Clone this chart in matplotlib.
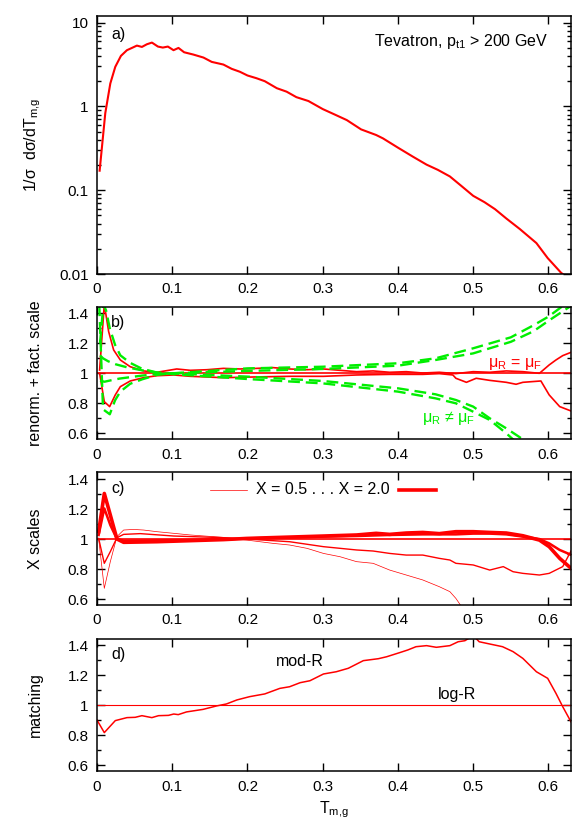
import matplotlib
matplotlib.use("Agg")
import matplotlib.pyplot as plt
from matplotlib.ticker import MultipleLocator, LogLocator, FuncFormatter, NullFormatter

plt.rcParams['font.family'] = ['Liberation Sans', 'DejaVu Sans']
plt.rcParams['mathtext.default'] = 'regular'
plt.rcParams['font.size'] = 11.5
plt.rcParams['xtick.labelsize'] = 11
plt.rcParams['ytick.labelsize'] = 11

RED = '#ff0000'
GREEN = '#00ee00'

# ---- panel a: normalised distribution ----
xa = [0.0035, 0.011, 0.0177, 0.0243, 0.0318, 0.0398, 0.0464, 0.053, 0.0597, 0.0663,
      0.073, 0.081, 0.0875, 0.0942, 0.1017, 0.1083, 0.1158, 0.128, 0.1415, 0.1525,
      0.168, 0.179, 0.19, 0.2, 0.212, 0.223, 0.239, 0.252, 0.265, 0.281,
      0.3, 0.316, 0.332, 0.351, 0.371, 0.38, 0.4, 0.42, 0.438, 0.453,
      0.469, 0.484, 0.5, 0.515, 0.529, 0.544, 0.562, 0.584, 0.599, 0.617, 0.63]
ya = [0.171, 0.83, 1.88, 2.97, 4.01, 4.69, 4.99, 5.32, 5.13, 5.52,
      5.78, 5.18, 5.04, 5.18, 4.69, 4.99, 4.43, 4.16, 3.83, 3.40,
      3.16, 2.81, 2.59, 2.34, 2.17, 2.0, 1.65, 1.50, 1.29, 1.16,
      0.93, 0.80, 0.687, 0.532, 0.456, 0.416, 0.322, 0.251, 0.202, 0.175,
      0.146, 0.113, 0.0857, 0.072, 0.0594, 0.046, 0.0344, 0.0234, 0.0155, 0.0103, 0.0085]

# ---- panel b: renormalisation + factorisation scale ----
xb_up = [0.0035, 0.0097, 0.0155, 0.0221, 0.031, 0.0442, 0.0619, 0.0796, 0.106, 0.124,
         0.146, 0.168, 0.19, 0.212, 0.234, 0.256, 0.279, 0.301, 0.323, 0.345,
         0.367, 0.389, 0.411, 0.433, 0.455, 0.477, 0.5, 0.522, 0.544, 0.566,
         0.588, 0.601, 0.61, 0.619, 0.63]
yb_up = [1.022, 1.46, 1.278, 1.156, 1.089, 1.044, 1.016, 1.007, 1.029, 1.02,
         1.024, 1.033, 1.029, 1.033, 1.038, 1.029, 1.024, 1.029, 1.02, 1.011,
         1.016, 1.007, 1.011, 1.002, 1.007, 0.998, 1.011, 1.007, 1.016, 1.011,
         1.0, 1.056, 1.089, 1.118, 1.14]
xb_lo = [0.0035, 0.0097, 0.0168, 0.0243, 0.031, 0.0442, 0.0619, 0.0796, 0.102, 0.124,
         0.168, 0.212, 0.256, 0.301, 0.345, 0.389, 0.433, 0.455, 0.473, 0.477,
         0.491, 0.504, 0.522, 0.544, 0.557, 0.566, 0.59, 0.601, 0.615, 0.63]
yb_lo = [1.0, 0.811, 0.778, 0.856, 0.911, 0.949, 0.971, 0.984, 0.989, 0.98,
         0.971, 0.976, 0.98, 0.98, 0.989, 0.993, 0.993, 0.998, 0.989, 0.967,
         0.94, 0.967, 0.953, 0.94, 0.927, 0.94, 0.949, 0.856, 0.778, 0.749]

xg1 = [0.004, 0.0085, 0.012, 0.017, 0.024, 0.031, 0.044, 0.06, 0.08, 0.1,
       0.2, 0.3, 0.4, 0.45, 0.477, 0.5, 0.522, 0.544, 0.555]
yg1 = [1.2, 1.46, 1.42, 1.3, 1.19, 1.12, 1.07, 1.03, 1.005, 0.995,
       0.962, 0.933, 0.878, 0.833, 0.8, 0.744, 0.689, 0.6, 0.55]
xg2 = [0.004, 0.008, 0.015, 0.025, 0.04, 0.06, 0.08, 0.1,
       0.2, 0.3, 0.4, 0.45, 0.477, 0.5, 0.522, 0.544, 0.566, 0.57]
yg2 = [1.12, 1.1, 1.08, 1.06, 1.04, 1.02, 1.005, 1.0,
       0.978, 0.949, 0.9, 0.86, 0.822, 0.778, 0.7, 0.633, 0.56, 0.55]
xg3 = [0.004, 0.01, 0.02, 0.03, 0.045, 0.06, 0.08, 0.1,
       0.2, 0.3, 0.4, 0.45, 0.5, 0.55, 0.58, 0.6, 0.63]
yg3 = [0.95, 0.944, 0.955, 0.965, 0.975, 0.985, 0.995, 1.0,
       1.016, 1.029, 1.051, 1.089, 1.133, 1.21, 1.28, 1.35, 1.45]
xg4 = [0.003, 0.008, 0.017, 0.024, 0.031, 0.044, 0.06, 0.08, 0.1,
       0.2, 0.3, 0.4, 0.45, 0.5, 0.55, 0.58, 0.6, 0.622]
yg4 = [1.46, 0.76, 0.727, 0.82, 0.878, 0.93, 0.96, 0.99, 1.0,
       1.033, 1.044, 1.067, 1.1, 1.167, 1.24, 1.32, 1.378, 1.46]

# ---- panel c: X scale variation (X = 0.5, 0.7, 1, 1.5, 2) ----
xc05 = [0.0022, 0.0097, 0.0177, 0.0265, 0.0354, 0.0486, 0.0619, 0.0796, 0.102, 0.124,
        0.168, 0.199, 0.234, 0.256, 0.279, 0.301, 0.323, 0.345, 0.367, 0.389,
        0.411, 0.433, 0.455, 0.469, 0.477, 0.483, 0.486]
yc05 = [1.004, 0.671, 0.849, 1.016, 1.06, 1.064, 1.06, 1.049, 1.038, 1.027,
        1.011, 0.993, 0.971, 0.96, 0.938, 0.904, 0.882, 0.849, 0.838, 0.793,
        0.76, 0.727, 0.682, 0.649, 0.604, 0.56, 0.54]
xc07 = [0.0022, 0.0097, 0.0177, 0.0265, 0.0354, 0.0575, 0.102, 0.168, 0.199, 0.256,
        0.301, 0.345, 0.367, 0.389, 0.411, 0.433, 0.455, 0.469, 0.477, 0.5,
        0.522, 0.54, 0.553, 0.566, 0.588, 0.601, 0.619, 0.63]
yc07 = [1.004, 0.838, 0.916, 1.009, 1.031, 1.036, 1.02, 1.009, 1.0, 0.982,
        0.949, 0.927, 0.92, 0.904, 0.893, 0.893, 0.871, 0.86, 0.838, 0.827,
        0.793, 0.816, 0.782, 0.771, 0.76, 0.771, 0.816, 0.92]
xc15 = [0.0022, 0.0097, 0.0177, 0.0265, 0.0354, 0.0796, 0.168, 0.199, 0.256, 0.301,
        0.345, 0.389, 0.433, 0.477, 0.5, 0.522, 0.544, 0.566, 0.588, 0.601,
        0.615, 0.63]
yc15 = [1.027, 1.204, 1.093, 1.0, 0.989, 0.991, 0.998, 1.004, 1.011, 1.016,
        1.02, 1.027, 1.031, 1.031, 1.036, 1.036, 1.031, 1.016, 1.0, 0.971,
        0.927, 0.895]
xc20 = [0.0022, 0.0097, 0.0177, 0.0265, 0.0354, 0.0796, 0.168, 0.199, 0.256, 0.301,
        0.345, 0.371, 0.389, 0.411, 0.433, 0.455, 0.477, 0.5, 0.522, 0.544,
        0.566, 0.588, 0.601, 0.615, 0.63]
yc20 = [1.049, 1.304, 1.16, 1.0, 0.978, 0.982, 0.996, 1.004, 1.013, 1.02,
        1.027, 1.038, 1.031, 1.04, 1.044, 1.036, 1.049, 1.049, 1.044, 1.04,
        1.022, 0.993, 0.949, 0.871, 0.805]

# ---- panel d: matching scheme ----
xd = [0.0, 0.0097, 0.0243, 0.0398, 0.0508, 0.0597, 0.0729, 0.0818, 0.095, 0.102,
      0.108, 0.119, 0.141, 0.159, 0.172, 0.186, 0.203, 0.223, 0.243, 0.256,
      0.27, 0.283, 0.301, 0.318, 0.334, 0.354, 0.374, 0.385, 0.402, 0.413,
      0.424, 0.438, 0.451, 0.469, 0.48, 0.489, 0.5, 0.508, 0.522, 0.539,
      0.553, 0.566, 0.584, 0.599, 0.61, 0.619, 0.63]
yd = [0.902, 0.818, 0.898, 0.918, 0.92, 0.931, 0.918, 0.931, 0.933, 0.942,
      0.938, 0.956, 0.973, 0.996, 1.009, 1.036, 1.058, 1.076, 1.113, 1.124,
      1.151, 1.164, 1.209, 1.224, 1.247, 1.298, 1.311, 1.324, 1.351, 1.369,
      1.391, 1.398, 1.387, 1.398, 1.424, 1.431, 1.465, 1.424, 1.409, 1.391,
      1.358, 1.313, 1.224, 1.18, 1.08, 0.991, 0.89]

XMAX = 0.63
YLO, YHI = 0.56, 1.445

fig = plt.figure(figsize=(5.81, 8.30), dpi=100)
L, W = 97 / 581, 474 / 581


def box(top, bottom):
    return [L, 1 - bottom / 830, W, (bottom - top) / 830]


ax_a = fig.add_axes(box(16, 274))
ax_b = fig.add_axes(box(306.6, 439.3))
ax_c = fig.add_axes(box(472.3, 605))
ax_d = fig.add_axes(box(638.6, 771.3))
fmt = FuncFormatter(lambda v, p: '%g' % v)

for ax in (ax_a, ax_b, ax_c, ax_d):
    ax.set_xlim(0, XMAX)
    ax.xaxis.set_major_locator(MultipleLocator(0.1))
    ax.xaxis.set_major_formatter(fmt)
    ax.tick_params(which='both', direction='in', top=True, right=True, width=1, pad=6)
    ax.tick_params(which='major', length=6)
    ax.tick_params(which='minor', length=3)
    for s in ax.spines.values():
        s.set_linewidth(1.1)
    if ax is not ax_a:
        ax.set_ylim(YLO, YHI)
        ax.yaxis.set_major_locator(MultipleLocator(0.2))
        ax.yaxis.set_minor_locator(MultipleLocator(0.1))
        ax.yaxis.set_major_formatter(fmt)

# a)
ax_a.set_yscale('log')
ax_a.set_ylim(0.01, 12)
ax_a.yaxis.set_major_locator(LogLocator(base=10))
ax_a.yaxis.set_minor_locator(LogLocator(base=10, subs=range(2, 10)))
ax_a.yaxis.set_minor_formatter(NullFormatter())
ax_a.yaxis.set_major_formatter(fmt)
ax_a.plot(xa, ya, color=RED, lw=1.5)
ax_a.text(0.03, 0.93, 'a)', transform=ax_a.transAxes, va='center')
ax_a.text(0.952, 0.9, 'Tevatron, p$_{t1}$ > 200 GeV', transform=ax_a.transAxes,
          ha='right', va='center')

# b)
ax_b.axhline(1, color=RED, lw=1.2)
ax_b.plot(xb_up, yb_up, color=RED, lw=1.2)
ax_b.plot(xb_lo, yb_lo, color=RED, lw=1.2)
for xs, ys in ((xg1, yg1), (xg2, yg2), (xg3, yg3), (xg4, yg4)):
    ax_b.plot(xs, ys, color=GREEN, lw=1.7, dashes=(5, 2.5))
ax_b.text(0.03, 0.88, 'b)', transform=ax_b.transAxes, va='center')
ax_b.text(0.555, 1.06, 'μ$_R$ = μ$_F$', color=RED, ha='center', va='center')
ax_b.text(0.468, 0.70, 'μ$_R$ ≠ μ$_F$', color=GREEN, ha='center', va='center')

# c)
ax_c.axhline(1, color=RED, lw=1.2)
ax_c.plot(xc05, yc05, color=RED, lw=0.5)
ax_c.plot(xc07, yc07, color=RED, lw=1.0)
ax_c.plot(xc15, yc15, color=RED, lw=1.8)
ax_c.plot(xc20, yc20, color=RED, lw=2.6)
ax_c.text(0.03, 0.88, 'c)', transform=ax_c.transAxes, va='center')
ax_c.plot([0.150, 0.199], [1.33, 1.33], color=RED, lw=0.5)
ax_c.plot([0.402, 0.451], [1.33, 1.33], color=RED, lw=2.6)
ax_c.text(0.3005, 1.33, 'X = 0.5 . . . X = 2.0', ha='center', va='center')

# d)
ax_d.axhline(1, color=RED, lw=0.8)
ax_d.plot(xd, yd, color=RED, lw=1.1)
ax_d.text(0.03, 0.88, 'd)', transform=ax_d.transAxes, va='center')
ax_d.text(0.27, 1.29, 'mod-R', ha='center', va='center')
ax_d.text(0.478, 1.075, 'log-R', ha='center', va='center')
ax_d.set_xlabel('T$_{m{,}g}$', labelpad=4)

ylabels = [(ax_a, '1/σ  dσ/dT$_{m{,}g}$'), (ax_b, 'renorm. + fact. scale'),
           (ax_c, 'X scales'), (ax_d, 'matching')]
for ax, lab in ylabels:
    ax.set_ylabel(lab, fontsize=11.5)
    ax.yaxis.set_label_coords(-0.114, 0.5)

fig.savefig('out.png', dpi=100)
